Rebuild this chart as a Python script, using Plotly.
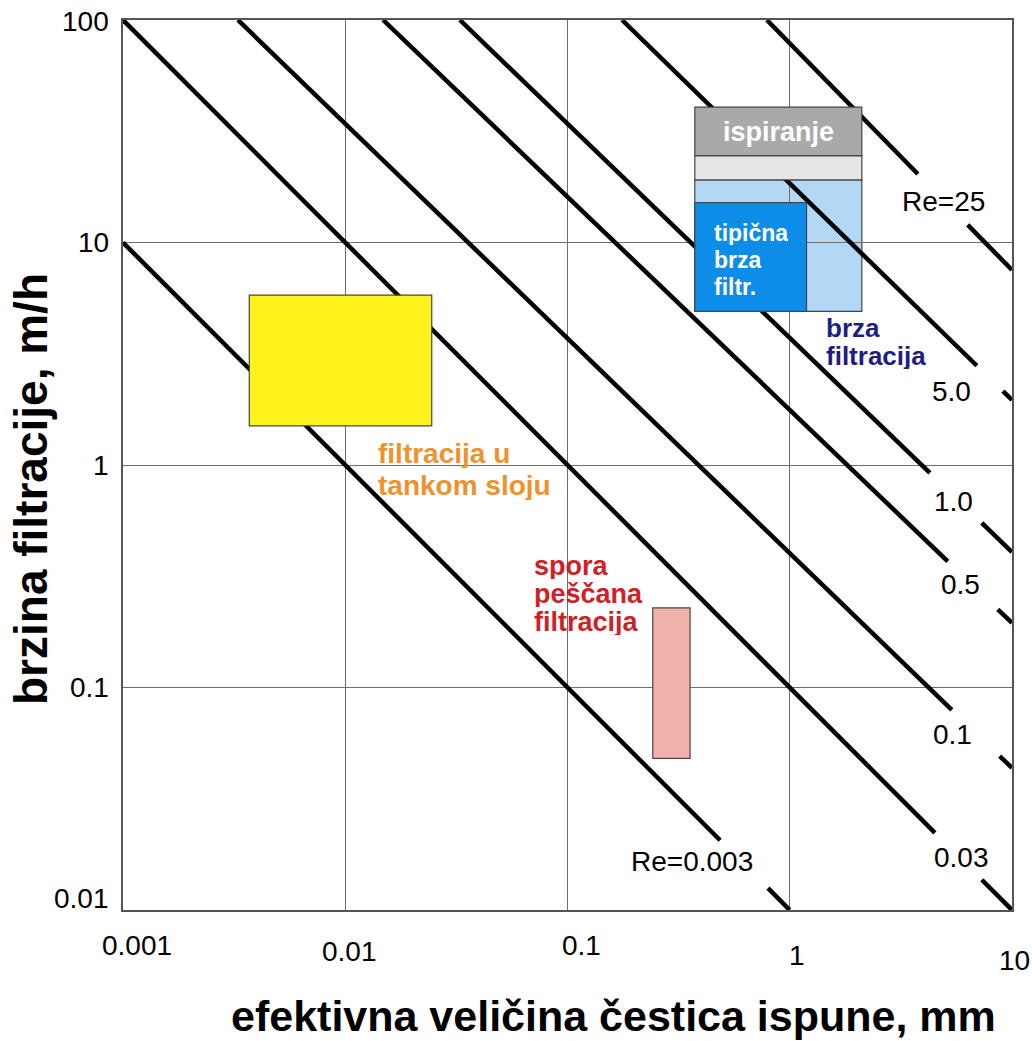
import math
import plotly.graph_objects as go

L = math.log10

# ---------------- data ----------------
# Reynolds-number lines (d in mm, v in m/h); each drawn from its start point to its end point
re_labels = ["Re=0.003", "0.03", "0.1", "0.5", "1.0", "5.0", "Re=25"]
line_start_d = [0.001, 0.001, 0.00329, 0.0148, 0.0328, 0.176, 0.789]
line_start_v = [10, 100, 100, 100, 100, 100, 100]
line_end_d = [1, 10, 10, 10, 10, 10, 10]
line_end_v = [0.01, 0.01, 0.0435, 0.195, 0.406, 1.96, 7.52]
# where each line is interrupted for its label
gap_from_d = [0.486, 4.50, 5.36, 5.14, 4.27, 6.95, 3.77]
gap_to_d = [0.798, 7.31, 8.80, 8.63, 7.31, 9.10, 6.32]
label_d = [0.363, 5.94, 5.42, 5.89, 5.47, 5.36, 4.93]
label_v = [0.01644, 0.01714, 0.0612, 0.289, 0.682, 2.15, 15.3]

# process regions (rectangles)
box_names = ["brza filtracija", "ispiranje", "prelaz", "tipicna brza filtr.",
             "filtracija u tankom sloju", "spora pescana filtracija"]
box_d0 = [0.374, 0.374, 0.374, 0.374, 0.0037, 0.242]
box_d1 = [2.11, 2.11, 2.11, 1.19, 0.0245, 0.356]
box_v0 = [4.9, 24.5, 19.1, 4.9, 1.5, 0.048]
box_v1 = [19.1, 40.6, 24.5, 15.1, 5.8, 0.228]

# axis ticks
x_tick_vals = [0.001, 0.01, 0.1, 1, 10]
x_tick_text = ["0.001", "0.01", "0.1", "1", "10"]
y_tick_vals = [100, 10, 1, 0.1, 0.01]
y_tick_text = ["100", "10", "1", "0.1", "0.01"]

# ---------------- styles ----------------
box_fill = ["#B3D8F6", "#A9A9A9", "#E6E6E6", "#0D8CE8", "#FFF21C", "#F2B2AC"]
box_layer = ["below", "above", "above", "above", "above", "above"]
FONT = "Arial, Liberation Sans, Helvetica, sans-serif"
x_tick_xshift = [14, 4, 14, 7, 2]
x_tick_ycenter_px = [945, 951, 945, 955, 960]
y_tick_yshift = [-1, 0, 0, 0, 12]

PLOT_LEFT, PLOT_TOP, PLOT_RIGHT, PLOT_BOTTOM = 123, 20, 1012, 910
W, H = 1032, 1041


def v_on_line(i, d):
    x0, y0 = L(line_start_d[i]), L(line_start_v[i])
    x1, y1 = L(line_end_d[i]), L(line_end_v[i])
    t = (L(d) - x0) / (x1 - x0)
    return 10 ** (y0 + t * (y1 - y0))


fig = go.Figure()

for i, lab in enumerate(re_labels):
    xs = [line_start_d[i], gap_from_d[i], None, gap_to_d[i], line_end_d[i]]
    ys = [line_start_v[i], v_on_line(i, gap_from_d[i]), None,
          v_on_line(i, gap_to_d[i]), line_end_v[i]]
    fig.add_trace(go.Scatter(x=xs, y=ys, mode="lines", name=lab,
                             line=dict(color="black", width=4.5),
                             showlegend=False, hoverinfo="skip"))

for i in range(len(box_names)):
    fig.add_shape(type="rect", xref="x", yref="y",
                  x0=box_d0[i], x1=box_d1[i], y0=box_v0[i], y1=box_v1[i],
                  fillcolor=box_fill[i], line=dict(color="#454545", width=1.2),
                  layer=box_layer[i])

ann = []

# Re labels
for i, lab in enumerate(re_labels):
    ann.append(dict(x=L(label_d[i]), y=L(label_v[i]), xref="x", yref="y",
                    text=lab, showarrow=False, xanchor="center", yanchor="middle",
                    font=dict(family=FONT, size=28, color="black")))

# box labels
ib = box_names.index("ispiranje")
ann.append(dict(x=(L(box_d0[ib]) + L(box_d1[ib])) / 2,
                y=(L(box_v0[ib]) + L(box_v1[ib])) / 2,
                xref="x", yref="y", text="<b>ispiranje</b>", showarrow=False,
                font=dict(family=FONT, size=27, color="white")))


def text_block(lines, d, v, spacing, size, color):
    for k, t in enumerate(lines):
        ann.append(dict(x=L(d), y=L(v), xref="x", yref="y", text="<b>%s</b>" % t,
                        showarrow=False, xanchor="left", yanchor="middle",
                        yshift=-k * spacing, height=spacing - 2, borderpad=0,
                        font=dict(family=FONT, size=size, color=color)))


text_block(["tipična", "brza", "filtr."], 0.451, 11.1, 27, 23, "white")
text_block(["brza", "filtracija"], 1.44, 4.13, 28, 26, "#1E1E82")
text_block(["filtracija u", "tankom sloju"], 0.0139, 1.13, 32, 28, "#F0922B")
text_block(["spora", "peščana", "filtracija"], 0.0698, 0.352, 28, 27, "#D21F26")

# tick labels
for i, t in enumerate(x_tick_text):
    ann.append(dict(x=L(x_tick_vals[i]), y=0, xref="x", yref="paper", text=t,
                    showarrow=False, xanchor="center", yanchor="middle",
                    xshift=x_tick_xshift[i],
                    yshift=-(x_tick_ycenter_px[i] - PLOT_BOTTOM),
                    font=dict(family=FONT, size=28, color="black")))
for i, t in enumerate(y_tick_text):
    ann.append(dict(x=0, y=L(y_tick_vals[i]), xref="paper", yref="y", text=t,
                    showarrow=False, xanchor="right", yanchor="middle",
                    xshift=-12, yshift=y_tick_yshift[i],
                    font=dict(family=FONT, size=28, color="black")))

# axis titles
ann.append(dict(x=(613 - PLOT_LEFT) / (PLOT_RIGHT - PLOT_LEFT), y=0,
                xref="paper", yref="paper", yshift=-(1016 - PLOT_BOTTOM),
                text="<b>efektivna veličina čestica ispune, mm</b>", showarrow=False,
                xanchor="center", yanchor="middle", borderpad=0,
                font=dict(family=FONT, size=43, color="black")))
ann.append(dict(x=0, y=(PLOT_BOTTOM - 489) / (PLOT_BOTTOM - PLOT_TOP),
                xref="paper", yref="paper", xshift=-(PLOT_LEFT - 31),
                text="<b>brzina filtracije, m/h</b>", showarrow=False, textangle=-90,
                xanchor="center", yanchor="middle",
                font=dict(family=FONT, size=46, color="black")))

axis_common = dict(type="log", showgrid=True, gridcolor="#6E6E6E", gridwidth=1.3,
                   showline=True, linecolor="#555555", linewidth=2, mirror=True,
                   zeroline=False, ticks="", showticklabels=False, fixedrange=True)

fig.update_layout(
    width=W, height=H,
    margin=dict(l=PLOT_LEFT, r=W - PLOT_RIGHT, t=PLOT_TOP, b=H - PLOT_BOTTOM),
    paper_bgcolor="white", plot_bgcolor="white",
    xaxis=dict(range=[-3, 1], tickvals=[0.01, 0.1, 1], **axis_common),
    yaxis=dict(range=[-2, 2], tickvals=[0.1, 1, 10], **axis_common),
    annotations=ann,
    showlegend=False,
)

fig.write_html("out.html", config={"displayModeBar": False},
               post_script="document.body.style.margin='0';")
